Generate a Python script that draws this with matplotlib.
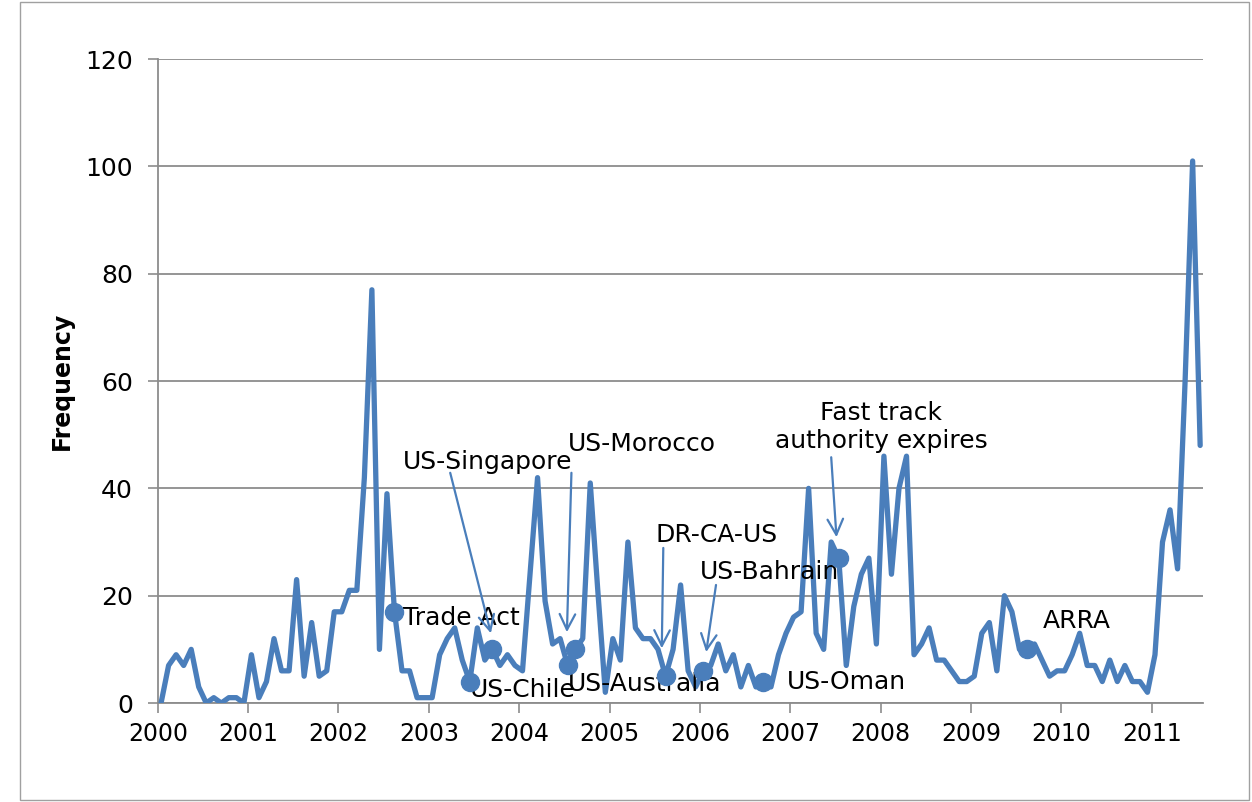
import numpy as np
import matplotlib
matplotlib.use("Agg")
from matplotlib import pyplot as plt
from matplotlib.patches import Rectangle

# monthly counts, Jan 2000 .. Jul 2011
y2000 = [0, 7, 9, 7, 10, 3, 0, 1, 0, 1, 1, 0]
y2001 = [9, 1, 4, 12, 6, 6, 23, 5, 15, 5, 6, 17]
y2002 = [17, 21, 21, 42, 77, 10, 39, 17, 6, 6, 1, 1]
y2003 = [1, 9, 12, 14, 8, 4, 14, 8, 10, 7, 9, 7]
y2004 = [6, 24, 42, 19, 11, 12, 7, 10, 12, 41, 21, 2]
y2005 = [12, 8, 30, 14, 12, 12, 10, 5, 10, 22, 6, 3]
y2006 = [6, 7, 11, 6, 9, 3, 7, 3, 4, 3, 9, 13]
y2007 = [16, 17, 40, 13, 10, 30, 27, 7, 18, 24, 27, 11]
y2008 = [46, 24, 40, 46, 9, 11, 14, 8, 8, 6, 4, 4]
y2009 = [5, 13, 15, 6, 20, 17, 10, 10, 11, 8, 5, 6]
y2010 = [6, 9, 13, 7, 7, 4, 8, 4, 7, 4, 4, 2]
y2011 = [9, 30, 36, 25, 60, 101, 48]

frequency = np.array(y2000 + y2001 + y2002 + y2003 + y2004 + y2005 +
                     y2006 + y2007 + y2008 + y2009 + y2010 + y2011)
month = np.arange(len(frequency))
years = list(range(2000, 2012))

# event markers (month index)
marker_months = [31, 41, 44, 54, 55, 67, 72, 80, 90, 115]

blue = "#4a7ebb"
grey = "#8c8c8c"

fig = plt.figure(figsize=(12.52, 8.02), dpi=100)
ax = fig.add_axes([0.126, 0.1234, 0.835, 0.803])

# chart area border
fig.patches.append(Rectangle((20 / 1252, 0.002), 1229 / 1252, 0.996,
                             transform=fig.transFigure, fill=False,
                             edgecolor="#a0a0a0", lw=1))

ax.plot(month, frequency, color=blue, lw=3.8, solid_joinstyle="round",
        solid_capstyle="round", zorder=3)
ax.plot(month[marker_months], frequency[marker_months], "o", color=blue,
        ms=13, zorder=4)

ax.set_xlim(-0.44, 138.4)
ax.set_ylim(0, 120)
ax.set_yticks(range(0, 121, 20))
ax.set_xticks([12 * (y - 2000) - 0.44 for y in years])
ax.set_xticklabels([str(y) for y in years])
ax.tick_params(axis="both", direction="out", length=7, width=1.2,
               color=grey)
ax.tick_params(axis="y", pad=11, labelsize=18)
ax.tick_params(axis="x", pad=7, labelsize=17)
ax.grid(axis="y", color=grey, lw=1.3)
ax.set_axisbelow(True)
for s in ["top", "right"]:
    ax.spines[s].set_visible(False)
for s in ["left", "bottom"]:
    ax.spines[s].set_color(grey)
    ax.spines[s].set_linewidth(1.3)

ax.set_ylabel("Frequency", fontsize=17, fontweight="bold", labelpad=8)

fs = 18
# labels
ax.text(32.1, 15.8, "Trade Act", fontsize=fs, ha="left", va="center")
ax.text(41.0, 2.4, "US-Chile", fontsize=fs, ha="left", va="center")
ax.text(32.1, 44.9, "US-Singapore", fontsize=fs, ha="left", va="center")
ax.text(54.0, 48.3, "US-Morocco", fontsize=fs, ha="left", va="center")
ax.text(54.0, 3.5, "US-Australia", fontsize=fs, ha="left", va="center")
ax.text(65.6, 31.3, "DR-CA-US", fontsize=fs, ha="left", va="center")
ax.text(71.6, 24.4, "US-Bahrain", fontsize=fs, ha="left", va="center")
ax.text(83.1, 3.9, "US-Oman", fontsize=fs, ha="left", va="center")
ax.text(95.6, 51.4, "Fast track\nauthority expires", fontsize=fs,
        ha="center", va="center", multialignment="center", linespacing=1.2)
ax.text(117.1, 15.3, "ARRA", fontsize=fs, ha="left", va="center")

# arrows
arrows = [((38.4, 42.9), (43.8, 13.0)),
          ((54.5, 42.9), (53.9, 13.2)),
          ((66.7, 28.9), (66.5, 10.2)),
          ((73.7, 22.0), (72.4, 9.5)),
          ((89.0, 45.8), (89.7, 30.9))]
for start, end in arrows:
    ax.annotate("", xy=end, xytext=start,
                arrowprops=dict(arrowstyle="->", color=blue, lw=1.6,
                                mutation_scale=28, shrinkA=0, shrinkB=0))

fig.savefig("out.png", dpi=100)
